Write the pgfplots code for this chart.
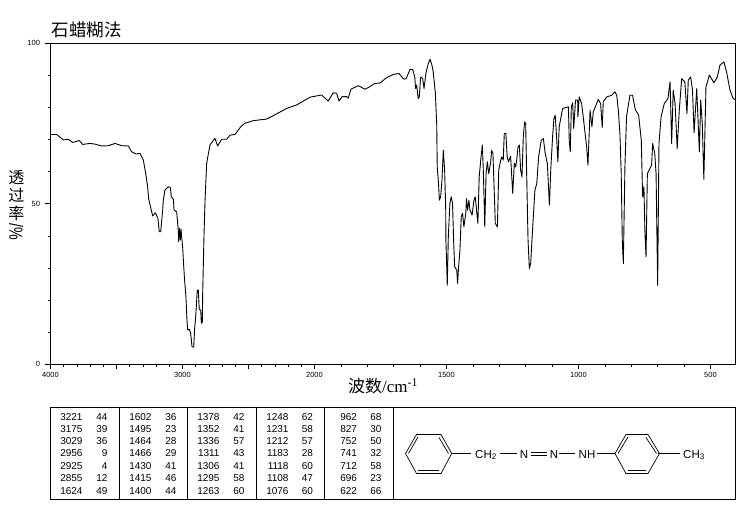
\documentclass[border=0pt]{standalone}
\usepackage{fontspec}
\usepackage{graphicx}
\usepackage{pgfplots}
\usepackage{pgfplotstable}
\pgfplotsset{compat=1.18}
\setmainfont{Liberation Sans}
\newfontfamily\cjk{Noto Sans CJK SC}
\newfontfamily\serifen{Liberation Serif}

% wavenumber, transmittance
\pgfplotstableread{
w T
4000 71.6
3953 71.6
3903 69.9
3865 70.1
3832 69.1
3782 69.7
3756 68.5
3701 68.8
3663 68.6
3612 68.0
3562 68.1
3511 68.8
3461 68.1
3410 68.0
3385 66.2
3352 65.5
3322 65.7
3297 63.7
3279 59.5
3264 55.3
3256 51.5
3226 46.2
3206 47.2
3186 45.5
3176 41.3
3165 41.3
3150 48.1
3145 51.2
3133 54.3
3107 55.3
3092 55.1
3085 52.2
3069 51.4
3064 48.1
3044 47.5
3032 41.8
3029 38.2
3022 42.4
3016 38.7
3011 42.0
2999 36.6
2986 27.3
2974 21.1
2966 13.8
2961 10.7
2948 10.9
2938 9.6
2928 5.5
2915 5.3
2908 11.2
2900 14.8
2888 23.1
2880 23.1
2873 17.1
2862 16.9
2857 12.8
2850 13.0
2847 22.1
2837 40.3
2829 51.2
2817 62.6
2792 68.3
2754 70.4
2734 68.0
2703 70.1
2665 70.1
2640 71.4
2602 71.6
2559 74.0
2527 75.1
2463 75.9
2362 76.4
2287 78.0
2211 79.7
2135 80.8
2034 83.2
1973 83.9
1948 82.0
1929 84.6
1916 84.4
1907 82.0
1895 83.4
1878 83.4
1872 82.9
1862 85.7
1834 86.8
1809 85.7
1796 86.2
1771 87.5
1752 87.6
1727 89.3
1701 90.3
1680 90.6
1663 88.9
1653 88.9
1638 91.9
1628 91.8
1620 89.5
1617 85.9
1613 87.0
1607 82.8
1603 83.3
1598 89.5
1590 89.0
1585 85.9
1578 90.6
1569 93.7
1562 95.0
1555 93.2
1550 90.9
1542 84.4
1537 75.0
1535 61.5
1530 56.3
1527 51.1
1522 52.2
1517 57.4
1512 66.7
1507 60.5
1503 49.1
1502 38.1
1499 30.4
1497 24.6
1493 39.7
1487 50.1
1482 52.2
1477 50.1
1473 38.7
1469 30.4
1461 29.3
1458 25.2
1454 30.4
1449 35.6
1444 46.0
1439 47.0
1434 42.8
1427 47.0
1424 51.6
1420 48.0
1415 51.1
1411 48.0
1403 46.5
1396 51.1
1391 52.2
1386 48.0
1381 43.9
1376 58.4
1369 64.6
1364 68.3
1360 59.4
1355 42.8
1350 59.4
1345 63.1
1340 59.4
1333 62.6
1329 66.7
1324 65.7
1320 56.3
1315 43.9
1307 42.8
1302 60.5
1297 62.6
1291 64.6
1285 63.6
1281 71.9
1275 71.9
1270 64.6
1265 63.1
1257 64.8
1252 57.4
1249 53.2
1243 62.6
1238 61.5
1234 63.6
1229 67.7
1224 68.3
1219 60.5
1214 58.4
1209 70.9
1204 75.5
1200 75.0
1196 58.4
1191 38.7
1186 29.8
1181 31.4
1174 41.8
1165 54.2
1158 56.3
1151 64.6
1141 69.8
1133 70.3
1126 65.7
1118 62.6
1110 49.6
1105 60.5
1098 70.9
1093 76.6
1088 77.6
1083 70.9
1078 63.1
1073 74.0
1060 79.7
1038 80.2
1035 69.8
1031 66.2
1027 80.2
1022 81.5
1018 73.5
1011 82.3
1003 82.3
1002 77.1
997 83.3
988 81.2
982 77.1
969 67.7
964 62.0
956 79.2
949 74.0
944 78.6
925 82.5
916 81.2
910 73.8
906 81.8
893 83.3
874 83.8
862 84.9
855 83.8
849 79.2
843 71.9
838 59.4
834 38.7
830 31.4
824 61.5
818 77.1
805 83.8
795 83.8
785 79.4
772 77.6
762 69.8
757 52.2
752 55.3
748 40.7
744 33.5
739 59.4
723 62.0
719 68.8
711 65.7
706 59.4
700 24.6
695 68.8
687 77.1
675 81.2
661 82.8
653 88.0
647 68.8
641 85.4
634 81.2
626 67.2
618 79.2
609 89.0
597 88.0
589 78.1
584 88.5
575 89.5
568 85.4
562 72.1
552 85.9
542 66.2
537 82.3
531 75.0
525 57.6
517 86.4
504 90.1
487 87.7
474 89.5
464 93.2
449 94.2
439 91.1
426 85.4
414 82.8
407 82.5
}\spectrum

\begin{document}
\begin{tikzpicture}[x=1pt,y=1pt]
\path[use as bounding box] (0,0) rectangle (737,510);
\begin{axis}[
  at={(50.5pt,145.7pt)},
  anchor=south west,
  scale only axis,
  width=684.5pt,
  height=321pt,
  % scale is twice as wide below 2000 cm-1
  x coord trafo/.code={\pgfmathparse{#1>=2000?(4000-#1)/2:3000-#1}},
  xmin=4000, xmax=407,
  ymin=0, ymax=100,
  axis line style={line width=0.9pt},
  tick style={black,line width=0.7pt},
  tick align=outside,
  xtick pos=bottom,
  ytick pos=left,
  major tick length=5pt,
  minor tick length=2.5pt,
  xtick={4000,3500,3000,2500,2000,1500,1000,500},
  xticklabels={4000,,3000,,2000,1500,1000,500},
  minor xtick={3900,3800,3700,3600,3400,3300,3200,3100,2900,2800,2700,2600,2400,2300,2200,2100,1900,1800,1700,1600,1400,1300,1200,1100,900,800,700,600,400},
  ytick={0,50,100},
  minor ytick={10,20,30,40,60,70,80,90},
  tick label style={font=\fontsize{7.5}{9}\selectfont,/pgf/number format/assume math mode=true},
  x tick label style={yshift=1pt},
  y tick label style={xshift=-2pt},
  title={\cjk 石蜡糊法},
  title style={font=\fontsize{17.5}{20}\selectfont,at={(axis description cs:0.0526,1.0227)},anchor=center,inner sep=0pt},
  xlabel={{\cjk 波数}{\serifen /cm\textsuperscript{-1}}},
  xlabel style={font=\fontsize{17}{20}\selectfont,at={(axis description cs:0.4858,-0.0685)},anchor=center,inner sep=0pt},
  ylabel={{\cjk 透}\\[1pt]{\cjk 过}\\[1pt]{\cjk 率}\\[-13pt]\rotatebox{-90}{\fontsize{19}{19}\selectfont\scalebox{0.75}[1]{/\%}}},
  ylabel style={font=\fontsize{16}{17}\selectfont,rotate=-90,align=center,at={(axis description cs:-0.0500,0.4963)},anchor=center,inner sep=0pt},
]
\addplot[black,line width=0.9pt,line join=round,mark=none] table[x=w,y=T] {\spectrum};
\end{axis}

% pixel coordinates from here on, y downwards
\begin{scope}[shift={(0pt,510pt)},y=-1pt,x=1pt,line width=0.9pt]
% peak table
\draw (50.3,407.3) rectangle (735,499);
\foreach \vx in {119.3,187.3,256.3,324.3,393.3} \draw (\vx,407.3) -- (\vx,499);
\def\rowy{{416.7,428.7,440.7,453.3,465.7,478.3,490.7}}
\newcommand\peakcol[3]{%
  \foreach \a/\b [count=\i from 0] in {#3} {
    \pgfmathsetmacro\yy{\rowy[\i]}
    \node[anchor=east,inner sep=0pt,text height=7pt,text depth=0pt,font=\fontsize{10}{11}\selectfont] at (#1,\yy) {\a};
    \node[anchor=east,inner sep=0pt,text height=7pt,text depth=0pt,font=\fontsize{10}{11}\selectfont] at (#2,\yy) {\b};
  }}
\peakcol{83}{108}{3221/44,3175/39,3029/36,2956/9,2925/4,2855/12,1624/49}
\peakcol{152}{177}{1602/36,1495/23,1464/28,1466/29,1430/41,1415/46,1400/44}
\peakcol{220}{245}{1378/42,1352/41,1336/57,1311/43,1306/41,1295/58,1263/60}
\peakcol{289}{313.5}{1248/62,1231/58,1212/57,1183/28,1118/60,1108/47,1076/60}
\peakcol{357.5}{382}{962/68,827/30,752/50,741/32,712/58,696/23,622/66}
% structure
\begin{scope}[line width=0.7pt]
\draw (451.7,453.5) -- (441,434.5) -- (416.5,434.5) -- (405.5,453.5) -- (416.5,473.5) -- (441,473.5) -- cycle;
\draw (439,437.5) -- (448.5,453.5) (418,470.5) -- (439,470.5) (408.5,453.5) -- (418,437);
\draw (451.7,453.5) -- (471,453.5);
\draw (500,453.5) -- (517,453.5);
\draw (530.5,452) -- (547,452) (530.5,455) -- (547,455);
\draw (559,453.5) -- (575,453.5);
\draw (597,453.5) -- (615,453.5);
\draw (658,453.5) -- (680,453.5);
\draw (659.5,453.5) -- (648,434.5) -- (626,434.5) -- (615,453.5) -- (626,473.5) -- (648,473.5) -- cycle;
\draw (646,437.5) -- (656.5,453.5) (628,470.5) -- (646,470.5) (618,453.5) -- (628,437);
\end{scope}
\begin{scope}[every node/.style={inner sep=0pt,font=\fontsize{11.5}{12}\selectfont}]
\node at (486,455) {CH\textsubscript{2}};
\node at (524,455) {N};
\node at (554,455) {N};
\node at (587,455) {NH};
\node at (694,455) {CH\textsubscript{3}};
\end{scope}
\end{scope}
\end{tikzpicture}
\end{document}
